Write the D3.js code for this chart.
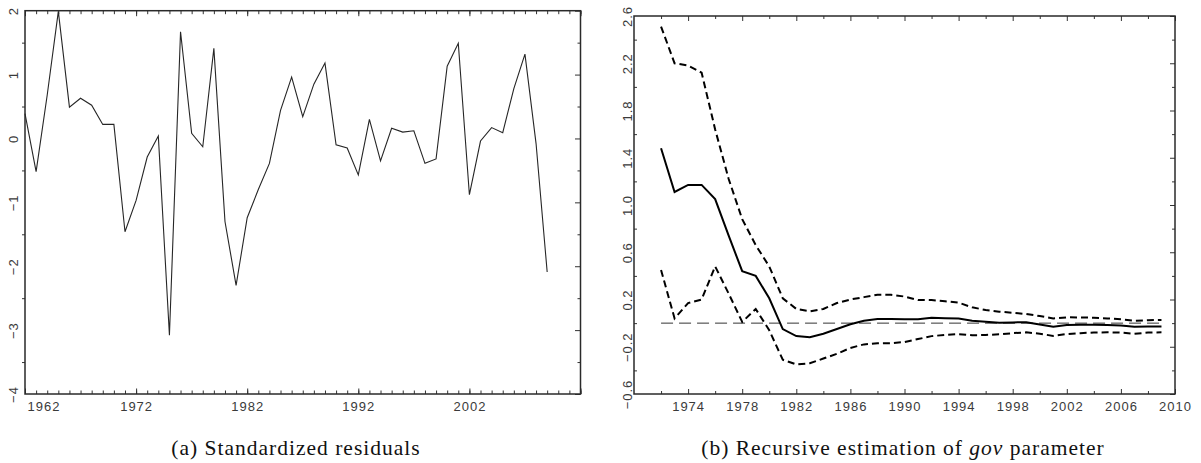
<!DOCTYPE html>
<html>
<head>
<meta charset="utf-8">
<script src="https://cdn.jsdelivr.net/npm/d3@7"></script>
<style>
  body { margin: 0; background: #fff; }
  svg { display: block; }
  .tick line { stroke: #333; }
  .tick text { font-family: "Liberation Sans", Arial, sans-serif; font-size: 13px; fill: #3a3a3a; letter-spacing: 1px; }
  .caption { font-family: "Liberation Serif", "Times New Roman", serif; font-size: 21.5px; letter-spacing: 1px; fill: #111; }
</style>
</head>
<body>
<svg id="chart" width="1201" height="463"></svg>
<script>
// (a) standardized residuals, one per year
var residualYears = d3.range(1962, 2010);
var residuals = [
  0.39, -0.52, 0.68, 1.99, 0.49, 0.63, 0.52, 0.22, 0.22, -1.46,
  -0.97, -0.29, 0.04, -3.08, 1.67, 0.08, -0.13, 1.41, -1.30, -2.30,
  -1.24, -0.80, -0.39, 0.44, 0.96, 0.34, 0.85, 1.18, -0.10, -0.15,
  -0.57, 0.30, -0.35, 0.16, 0.10, 0.12, -0.39, -0.32, 1.13, 1.49,
  -0.88, -0.04, 0.17, 0.09, 0.78, 1.32, -0.08, -2.09
];
var residualYTicks = [-4, -3, -2, -1, 0, 1, 2];
var residualXLabels = [1962, 1972, 1982, 1992, 2002];

// (b) recursive estimate of gov and its bands
var recursiveYears = d3.range(1972, 2010);
var govEstimate = [
  1.48, 1.11, 1.17, 1.17, 1.05, 0.74, 0.44, 0.40, 0.21, -0.05,
  -0.11, -0.12, -0.09, -0.05, -0.01, 0.02, 0.035, 0.035, 0.033, 0.033,
  0.045, 0.042, 0.04, 0.02, 0.012, 0.004, 0.006, 0.008, -0.012, -0.03,
  -0.015, -0.013, -0.013, -0.015, -0.02, -0.03, -0.028, -0.028
];
var govUpper = [
  2.51, 2.20, 2.18, 2.12, 1.64, 1.22, 0.88, 0.66, 0.48, 0.21,
  0.12, 0.10, 0.12, 0.17, 0.20, 0.22, 0.24, 0.24, 0.225, 0.196,
  0.195, 0.185, 0.173, 0.134, 0.111, 0.097, 0.088, 0.077, 0.06, 0.04,
  0.049, 0.048, 0.046, 0.04, 0.032, 0.02, 0.025, 0.026
];
var govLower = [
  0.45, 0.04, 0.17, 0.20, 0.48, 0.25, 0.01, 0.12, -0.06, -0.31,
  -0.35, -0.34, -0.30, -0.26, -0.21, -0.18, -0.17, -0.17, -0.16, -0.135,
  -0.11, -0.10, -0.093, -0.103, -0.10, -0.095, -0.085, -0.078, -0.09, -0.108,
  -0.092, -0.085, -0.079, -0.078, -0.08, -0.09, -0.08, -0.078
];
var govYTicks = [-0.6, -0.2, 0.2, 0.6, 1.0, 1.4, 1.8, 2.2, 2.6];
var govXLabels = [1974, 1978, 1982, 1986, 1990, 1994, 1998, 2002, 2006, 2010];

(function RecursiveChartsModule() {

  'use strict';

  var _svg = d3.select('#chart');

  drawResiduals();
  drawRecursive();

  // draw tick marks only, no domain path
  function tickMarks(g, axis, values, size) {
    g.call(axis.tickValues(values).tickSize(size).tickFormat(''));
    g.select('.domain').remove();
    g.selectAll('text').remove();
  }

  function frame(g, x, y) {
    g.append('rect')
      .attr('x', x.range()[0])
      .attr('y', y.range()[1])
      .attr('width', x.range()[1] - x.range()[0])
      .attr('height', y.range()[0] - y.range()[1])
      .attr('fill', 'none')
      .attr('stroke', '#2a2a2a')
      .attr('stroke-width', 1.5);
  }

  function rotateYLabels(g, offset) {
    g.selectAll('.tick text')
      .attr('transform', 'rotate(-90)')
      .attr('x', 0)
      .attr('y', -offset)
      .attr('dy', 0)
      .attr('text-anchor', 'middle');
  }

  function drawResiduals() {
    var x = d3.scaleLinear().domain([1962, 2012]).range([25, 580.5]);
    var y = d3.scaleLinear().domain([-4, 2]).range([394, 10.7]);
    var g = _svg.append('g');
    var bottom = y.range()[0], top = y.range()[1];
    var halves = d3.range(-3.5, 2, 1);

    // ticks, all four sides
    tickMarks(g.append('g').attr('transform', 'translate(0,' + bottom + ')'), d3.axisBottom(x), d3.range(1962, 2013), -3.5);
    tickMarks(g.append('g').attr('transform', 'translate(0,' + bottom + ')'), d3.axisBottom(x), d3.range(1962, 2013, 10), -5.5);
    tickMarks(g.append('g').attr('transform', 'translate(0,' + top + ')'), d3.axisTop(x), d3.range(1962, 2013), -3.5);
    tickMarks(g.append('g').attr('transform', 'translate(0,' + top + ')'), d3.axisTop(x), d3.range(1962, 2013, 10), -5.5);
    tickMarks(g.append('g').attr('transform', 'translate(' + x.range()[0] + ',0)'), d3.axisLeft(y), halves, 3);
    tickMarks(g.append('g').attr('transform', 'translate(' + x.range()[1] + ',0)'), d3.axisRight(y), halves, -3);
    tickMarks(g.append('g').attr('transform', 'translate(' + x.range()[1] + ',0)'), d3.axisRight(y), residualYTicks, -5.5);

    // labels
    var xl = g.append('g').attr('transform', 'translate(0,' + bottom + ')')
      .call(d3.axisBottom(x).tickValues(residualXLabels).tickSize(0).tickFormat(d3.format('d')));
    xl.select('.domain').remove();
    xl.selectAll('text').attr('y', 8).attr('dy', '0.71em');
    xl.selectAll('text').filter(function (d) { return d === 1962; })
      .attr('text-anchor', 'start').attr('dx', 2);

    var yl = g.append('g').attr('transform', 'translate(' + x.range()[0] + ',0)')
      .call(d3.axisLeft(y).tickValues(residualYTicks).tickSize(0).tickFormat(d3.format('d')));
    yl.select('.domain').remove();
    rotateYLabels(yl, 7);

    frame(g, x, y);

    var line = d3.line()
      .x(function (d, i) { return x(residualYears[i]); })
      .y(function (d) { return y(d); });

    g.append('path')
      .datum(residuals)
      .attr('d', line)
      .attr('fill', 'none')
      .attr('stroke', '#262626')
      .attr('stroke-width', 1.1)
      .attr('stroke-linejoin', 'miter');

    g.append('text')
      .attr('class', 'caption')
      .attr('x', 296)
      .attr('y', 455)
      .attr('text-anchor', 'middle')
      .text('(a) Standardized residuals');
  }

  function drawRecursive() {
    var x = d3.scaleLinear().domain([1970, 2010]).range([634, 1175]);
    var y = d3.scaleLinear().domain([-0.6, 2.6]).range([394, 16]);
    var g = _svg.append('g');
    var bottom = y.range()[0], top = y.range()[1];
    var evenYears = d3.range(1972, 2010, 4);
    var minorY = [-0.4, 0, 0.4, 0.8, 1.2, 1.6, 2.0, 2.4];

    tickMarks(g.append('g').attr('transform', 'translate(0,' + bottom + ')'), d3.axisBottom(x), evenYears, -3);
    tickMarks(g.append('g').attr('transform', 'translate(0,' + bottom + ')'), d3.axisBottom(x), govXLabels, -5);
    tickMarks(g.append('g').attr('transform', 'translate(0,' + top + ')'), d3.axisTop(x), evenYears, -3);
    tickMarks(g.append('g').attr('transform', 'translate(0,' + top + ')'), d3.axisTop(x), govXLabels, -5);
    tickMarks(g.append('g').attr('transform', 'translate(' + x.range()[0] + ',0)'), d3.axisLeft(y), minorY, -3);
    tickMarks(g.append('g').attr('transform', 'translate(' + x.range()[1] + ',0)'), d3.axisRight(y), minorY, -3);
    tickMarks(g.append('g').attr('transform', 'translate(' + x.range()[1] + ',0)'), d3.axisRight(y), govYTicks, -5);

    var xl = g.append('g').attr('transform', 'translate(0,' + bottom + ')')
      .call(d3.axisBottom(x).tickValues(govXLabels).tickSize(0).tickFormat(d3.format('d')));
    xl.select('.domain').remove();
    xl.selectAll('text').attr('y', 8).attr('dy', '0.71em');

    var yl = g.append('g').attr('transform', 'translate(' + x.range()[0] + ',0)')
      .call(d3.axisLeft(y).tickValues(govYTicks).tickSize(0).tickFormat(d3.format('.1f')));
    yl.select('.domain').remove();
    rotateYLabels(yl, 2.5);

    frame(g, x, y);

    // zero reference
    var span = d3.extent(recursiveYears);
    g.append('line')
      .attr('x1', x(span[0]))
      .attr('x2', x(span[1]))
      .attr('y1', y(0))
      .attr('y2', y(0))
      .attr('stroke', '#333')
      .attr('stroke-width', 1)
      .attr('stroke-dasharray', '12,6');

    var line = d3.line()
      .x(function (d, i) { return x(recursiveYears[i]); })
      .y(function (d) { return y(d); });

    [govUpper, govLower].forEach(function drawBand(band) {
      g.append('path')
        .datum(band)
        .attr('d', line)
        .attr('fill', 'none')
        .attr('stroke', '#000')
        .attr('stroke-width', 2)
        .attr('stroke-dasharray', '7,4');
    });

    g.append('path')
      .datum(govEstimate)
      .attr('d', line)
      .attr('fill', 'none')
      .attr('stroke', '#000')
      .attr('stroke-width', 2);

    var caption = g.append('text')
      .attr('class', 'caption')
      .attr('x', 903)
      .attr('y', 455)
      .attr('text-anchor', 'middle');
    caption.append('tspan').text('(b) Recursive estimation of ');
    caption.append('tspan').attr('font-style', 'italic').text('gov');
    caption.append('tspan').text(' parameter');
  }

})();
</script>
</body>
</html>
